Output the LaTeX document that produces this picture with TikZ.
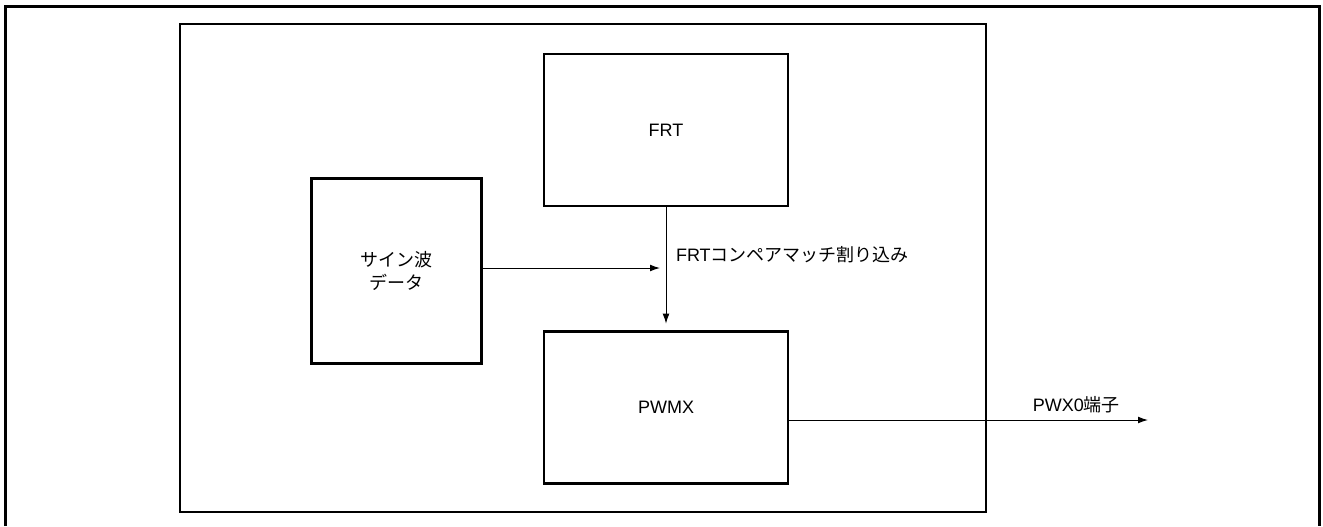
\documentclass[tikz,border=0pt]{standalone}
\usepackage{fontspec}
\setmainfont{Liberation Sans}
\newfontfamily\jpfont{Noto Sans CJK JP}
\usepackage{tikz}
\usetikzlibrary{arrows.meta, positioning}

\begin{document}
\begin{tikzpicture}[
    x = 0.5pt, y = -0.5pt, align = center,
    font = \fontsize{9}{11.5}\selectfont,
    frame/.style = {
      draw, line width = 1.5pt
    },
    block/.style = {
      rectangle, draw, line width = 1.3pt, inner sep = 0pt,
      minimum width = 122pt, minimum height = 76pt
    },
    container/.style = {
      rectangle, draw, line width = 1.3pt, inner sep = 0pt,
      minimum width = 403pt, minimum height = 244pt
    },
    path/.style = {
      line width = 0.5pt, -{Latex[length = 5pt, width = 3.4pt]}
    },
    ]
    \useasboundingbox (0,0) rectangle (1323,526);

    % draw outer frame (runs off the bottom)
    \draw  [frame]  (5,526) -- (5,6) -- (1319,6) -- (1319,526);

    % draw nodes
    \node  [container]  (mcu)  at  (583,268)  {};
    \node  [block]  (frt)  at  (666,130)  {FRT};
    \node  [block]  (pwmx)  [below = 61.5pt of frt]  {PWMX};
    \node  [block, minimum width = 85pt, minimum height = 92.5pt]  (sine)  at  (396.7,270.8)
      {\jpfont サイン波\\ \jpfont データ};

    \coordinate  (tap)  at  (666,268);
    \coordinate  (pinout)  at  (1148,420);

    % draw paths
    \draw  [path, shorten > = 3pt]  (sine.east |- tap)  --  (tap);
    \draw  [path, shorten > = 3.3pt]  (frt)  --  (pwmx);
    \draw  [path]  (pwmx.east |- pinout)  --  node  [above = 0pt, pos = 0.8]  (pinlabel)  {PWX0{\jpfont 端子}}  (pinout);

    \node  [anchor = west]  (cmlabel)  at  ([xshift = 1.5pt, yshift = 6.5pt] tap)  {FRT{\jpfont コンペアマッチ割り込み}};
\end{tikzpicture}
\end{document}
